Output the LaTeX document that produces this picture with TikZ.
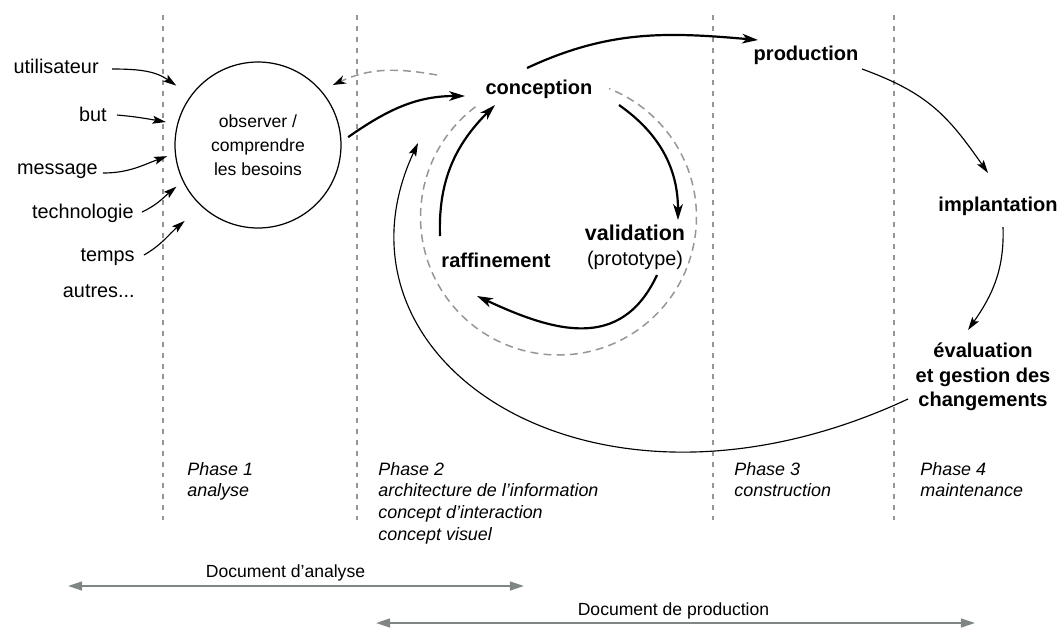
\documentclass[tikz,border=0pt]{standalone}
\usepackage{fontspec}
\setmainfont{Liberation Sans}
\usetikzlibrary{arrows.meta,calc}

\definecolor{docgris}{RGB}{128,133,133}
\definecolor{tiret}{RGB}{150,150,150}

\tikzset{
  entree/.style={font=\fontsize{11.3}{13}\selectfont, inner sep=0pt, anchor=base east},
  etape/.style={font=\fontsize{11.4}{13.8}\selectfont\bfseries, inner sep=0pt, anchor=base},
  phase/.style={font=\fontsize{10.2}{12.3}\selectfont\itshape, inner sep=0pt, anchor=north west, align=left},
  docu/.style={font=\fontsize{10}{12}\selectfont, inner sep=0pt, anchor=base},
  fleche/.style={line width=1.25pt, -{Stealth[length=9pt,width=5.5pt,inset=2.5pt]}},
  fine/.style={line width=0.65pt, -{Stealth[length=7.5pt,width=4.5pt,inset=1.5pt]}},
  docfleche/.style={line width=1.1pt, draw=docgris, {Triangle[length=8pt,width=5pt]}-{Triangle[length=8pt,width=5pt]}},
  limite/.style={draw=tiret, line width=0.6pt, dash pattern=on 2.8pt off 3.4pt},
  pointille/.style={draw=tiret, line width=0.85pt, dash pattern=on 4.5pt off 3pt},
}

\begin{document}
\begin{tikzpicture}[x=0.02cm,y=-0.02cm]
\useasboundingbox (0,0) rectangle (1060,627);

\foreach \x in {163,357,713,894}
  \draw[limite] (\x,15) -- (\x,520);

\node[entree] (utilisateur) at (99,73.5) {utilisateur};
\node[entree] (but) at (107,121) {but};
\node[entree] (message) at (98,174) {message};
\node[entree] (technologie) at (134,218) {technologie};
\node[entree] (temps) at (135,261) {temps};
\node[entree] (autres) at (135,297) {autres...};

\node[draw, circle, line width=0.7pt, minimum size=3.32cm, inner sep=0pt, align=center,
  font=\fontsize{10}{13.7}\selectfont] (besoins) at (258,145) {observer /\\comprendre\\les besoins};

\node[etape] (conception) at (539,94.5) {conception};
\node[etape] (production) at (806,60) {production};
\node[etape] (implantation) at (998,211) {implantation};
\node[etape, font=\fontsize{12.2}{14}\selectfont\bfseries] (validation) at (635,240) {validation};
\node[entree, anchor=base] (prototype) at (635,265) {(prototype)};
\node[etape] (raffinement) at (496,267.5) {raffinement};
\node[etape, anchor=center, align=center] (evaluation) at (983,377) {évaluation\\et gestion des\\changements};

\node[phase] (phase1) at (187,462) {Phase 1\\analyse};
\node[phase] (phase2) at (378,462) {Phase 2\\architecture de l’information\\concept d’interaction\\concept visuel};
\node[phase] (phase3) at (734,462) {Phase 3\\construction};
\node[phase] (phase4) at (920,462) {Phase 4\\maintenance};

\node[docu] (docanalyse) at (285.5,577) {Document d’analyse};
\node[docu] (docproduction) at (673.5,615) {Document de production};

\coordinate (cycle) at (558.5,217);
\draw[pointille] ($(cycle)+(127:2.76cm)$) arc[start angle=127, end angle=428.5, radius=2.76cm];

\draw[fine] ($(utilisateur.base east)+(13,-4.5)$) to[out=0,in=145] ($(besoins.center)+(144:2.02cm)$);
\draw[fine] ($(but.base east)+(10,-6)$) to[out=-5,in=170] ($(besoins.center)+(166:1.9cm)$);
\draw[fine] ($(message.base east)+(5,-1)$) to[out=0,in=200] ($(besoins.center)+(187:1.83cm)$);
\draw[fine] ($(technologie.base east)+(8,-6)$) to[out=25,in=220] ($(besoins.center)+(207:1.83cm)$);
\draw[fine] ($(temps.base east)+(9,-6)$) to[out=30,in=220] ($(besoins.center)+(226:2.11cm)$);

\draw[fleche] ($(besoins.center)+(5:1.81cm)$) to[out=35,in=180] ($(conception.base)+(-74,1.5)$);
\draw[pointille, -{Stealth[length=7.5pt,width=5pt,color=black]}] ($(conception.base)+(-102,-19.5)$) to[out=170,in=25] ($(besoins.center)+(38.7:1.92cm)$);

\draw[fleche] ($(conception.base)+(80,10.5)$) to[out=-35,in=90] ($(validation.base)+(43,-20)$);
\draw[fleche] ($(prototype.base)+(22,10)$) to[out=-115,in=-25,looseness=1.2] ($(raffinement.base)+(-19,28.5)$);
\draw[fleche] ($(raffinement.base)+(-56,-31.5)$) to[out=92,in=225] ($(conception.base)+(-44,10.5)$);

\draw[fleche] ($(conception.base)+(-12,-26.5)$) to[out=25,in=175] ($(production.base)+(-48,-20)$);
\draw[fine] ($(production.base)+(56,9)$) to[out=-20,in=125,looseness=1.1] ($(implantation.base)+(-10,-38)$);
\draw[fine] ($(implantation.base)+(5,16)$) to[out=-88,in=55] ($(evaluation.center)+(-15,-47)$);
\coordinate (retour) at (418,143);
\draw[fine] ($(evaluation.center)+(-75,22)$) to[out=205,in=245,out distance=7cm,in distance=4.8cm] (retour);

\coordinate (analysedebut) at (68,586);
\coordinate (analysefin) at (524,586);
\draw[docfleche] (analysedebut) -- (analysefin);
\coordinate (productiondebut) at (376,623);
\coordinate (productionfin) at (975,623);
\draw[docfleche] (productiondebut) -- (productionfin);

\end{tikzpicture}
\end{document}
